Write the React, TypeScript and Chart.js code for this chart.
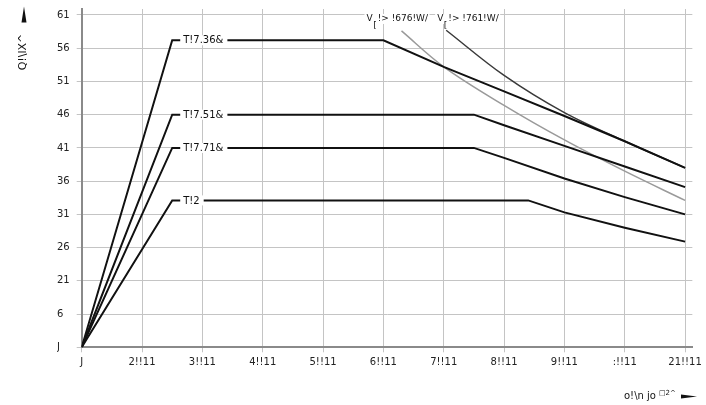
import React, { useEffect, useRef } from 'react';
import { Chart, registerables } from 'chart.js';

Chart.register(...registerables);

const FONT = '"DejaVu Sans", "Liberation Sans", sans-serif';

// axis ticks (values and their labels as printed)
const xTickValues = [0, 100, 200, 300, 400, 500, 600, 700, 800, 900, 1000];
const xTickLabels = ['J', '2!!11', '3!!11', '4!!11', '5!!11', '6!!11', '7!!11', '8!!11', '9!!11', ':!!11', '21!!11'];
const yTickValues = [0, 5, 10, 15, 20, 25, 30, 35, 40, 45, 50];
const yTickLabels = ['J', '6', '21', '26', '31', '36', '41', '46', '51', '56', '61'];

// duty lines
const s625X = [0, 150, 500, 600, 700, 800, 900, 1000];
const s625Y = [0, 46.2, 46.2, 42.2, 38.5, 34.8, 31.0, 27.0];
const s640X = [0, 150, 650, 700, 800, 900, 1000];
const s640Y = [0, 35.0, 35.0, 33.4, 30.3, 27.2, 24.1];
const s660X = [0, 150, 650, 700, 800, 900, 1000];
const s660Y = [0, 30.0, 30.0, 28.5, 25.4, 22.6, 20.0];
const s1X = [0, 150, 740, 800, 900, 1000];
const s1Y = [0, 22.1, 22.1, 20.3, 18.0, 15.9];

const dutyLabels = ['T!7.36&', 'T!7.51&', 'T!7.71&', 'T!2'];
const dutyCornerX = [150, 150, 150, 150];
const dutyLevel = [46.2, 35.0, 30.0, 22.1];

// voltage curves
const u565X = [530, 600, 700, 800, 900, 1000];
const u565Y = [47.6, 42.2, 36.4, 31.2, 26.5, 22.1];
const u650X = [604, 700, 800, 900, 1000];
const u650Y = [47.7, 40.9, 35.3, 31.0, 27.0];
const curveLabelMain = ['V', 'V'];
const curveLabelSub = ['[', '['];
const curveLabelRest = ['!> !676!W/', '!> !761!W/'];
const curveLabelShift = [-35, -9];

const yTitle = 'Q!\\lX^';
const xTitle = 'o!\\n jo';
const xTitleSup = '\u25A12^';

export default function App() {
  const ref = useRef<HTMLCanvasElement>(null);

  useEffect(() => {
    document.body.style.margin = '0';
    const canvas = ref.current!;
    const pts = (xs: number[], ys: number[]) => xs.map((x, i) => ({ x, y: ys[i] }));

    const annotate = {
      id: 'annotate',
      afterDatasetsDraw(chart: any) {
        const { ctx, scales } = chart;
        const xs = scales.x;
        const ys = scales.y;
        ctx.save();
        ctx.font = `10px ${FONT}`;
        ctx.textBaseline = 'middle';
        ctx.textAlign = 'left';
        // duty labels
        dutyLabels.forEach((lab, i) => {
          const px = xs.getPixelForValue(dutyCornerX[i]);
          const py = ys.getPixelForValue(dutyLevel[i]);
          const w = ctx.measureText(lab).width;
          ctx.fillStyle = '#fff';
          ctx.fillRect(px + 8, py - 5, w + 7, 10);
          ctx.fillStyle = '#111';
          ctx.fillText(lab, px + 11, py + 0.5);
        });
        // curve labels
        ctx.font = `9px ${FONT}`;
        const starts = [u565X[0], u650X[0]];
        starts.forEach((sx, i) => {
          const x0 = xs.getPixelForValue(sx) + curveLabelShift[i];
          const yc = ys.getPixelForValue(50) + 4;
          const wV = ctx.measureText(curveLabelMain[i]).width;
          const wS = ctx.measureText(curveLabelSub[i]).width;
          const wR = ctx.measureText(curveLabelRest[i]).width;
          ctx.fillStyle = '#fff';
          ctx.fillRect(x0 - 2, yc - 5, wV + wS + wR + 5, 10);
          ctx.fillStyle = '#111';
          ctx.fillText(curveLabelMain[i], x0, yc);
          ctx.fillText(curveLabelSub[i], x0 + wV + 0.5, yc + 7);
          ctx.fillText(curveLabelRest[i], x0 + wV + wS + 1.5, yc);
        });
        ctx.restore();
      },
      afterDraw(chart: any) {
        const { ctx } = chart;
        ctx.save();
        ctx.fillStyle = '#111';
        // y arrow
        ctx.beginPath();
        ctx.moveTo(21.5, 22.5);
        ctx.lineTo(26.5, 22.5);
        ctx.lineTo(24, 6.5);
        ctx.closePath();
        ctx.fill();
        // y title
        ctx.save();
        ctx.translate(23.5, 52);
        ctx.rotate(-Math.PI / 2);
        ctx.font = `11px ${FONT}`;
        ctx.textAlign = 'center';
        ctx.textBaseline = 'middle';
        ctx.fillText(yTitle, 0, 0);
        ctx.restore();
        // x title
        ctx.font = `10px ${FONT}`;
        ctx.textAlign = 'left';
        ctx.textBaseline = 'middle';
        ctx.fillText(xTitle, 624, 396.5);
        const w = ctx.measureText(xTitle).width;
        ctx.font = `7px ${FONT}`;
        ctx.fillText(xTitleSup, 624 + w + 3, 393);
        // x arrow
        ctx.beginPath();
        ctx.moveTo(681, 394.5);
        ctx.lineTo(681, 398.5);
        ctx.lineTo(697, 396.5);
        ctx.closePath();
        ctx.fill();
        ctx.restore();
      },
    };

    const blackLine = { borderColor: '#111', borderWidth: 2, pointRadius: 0, showLine: true, tension: 0, fill: false };

    const chart = new Chart(canvas, {
      type: 'scatter',
      data: {
        datasets: [
          { ...blackLine, label: dutyLabels[0], data: pts(s625X, s625Y) },
          { ...blackLine, label: dutyLabels[1], data: pts(s640X, s640Y) },
          { ...blackLine, label: dutyLabels[2], data: pts(s660X, s660Y) },
          { ...blackLine, label: dutyLabels[3], data: pts(s1X, s1Y) },
          { label: 'U565', data: pts(u565X, u565Y), borderColor: '#9a9a9a', borderWidth: 1.5, pointRadius: 0, showLine: true, tension: 0.35, fill: false },
          { label: 'U650', data: pts(u650X, u650Y), borderColor: '#3a3a3a', borderWidth: 1.5, pointRadius: 0, showLine: true, tension: 0.35, fill: false },
        ] as any,
      },
      options: {
        animation: false,
        responsive: false,
        maintainAspectRatio: false,
        layout: { padding: { left: 57, top: 7.3, right: 13.6, bottom: 0 } },
        plugins: { legend: { display: false }, tooltip: { enabled: false }, title: { display: false } },
        scales: {
          x: {
            type: 'linear',
            min: 0,
            max: 1012,
            afterBuildTicks: (s: any) => { s.ticks = xTickValues.map((v) => ({ value: v })); },
            afterFit: (s: any) => { s.height = 57.7; },
            ticks: {
              autoSkip: false,
              maxRotation: 0,
              padding: 4,
              color: '#222',
              font: { family: FONT, size: 10 },
              callback: (v: any) => xTickLabels[xTickValues.indexOf(Number(v))] ?? '',
            },
            grid: { color: '#c4c4c4', lineWidth: 1, tickLength: 5 },
            border: { color: '#8a8a8a', width: 2 },
          },
          y: {
            type: 'linear',
            min: 0,
            max: 50.9,
            afterBuildTicks: (s: any) => { s.ticks = yTickValues.map((v) => ({ value: v })); },
            afterFit: (s: any) => { s.width = 24.7; },
            ticks: {
              autoSkip: false,
              crossAlign: 'far',
              color: '#222',
              font: { family: FONT, size: 10 },
              callback: (v: any) => yTickLabels[yTickValues.indexOf(Number(v))] ?? '',
            },
            grid: { color: '#c4c4c4', lineWidth: 1, tickLength: 5 },
            border: { color: '#8a8a8a', width: 2 },
          },
        },
      } as any,
      plugins: [annotate],
    });
    return () => chart.destroy();
  }, []);

  return (
    <div style={{ width: 706, height: 405, background: '#fff' }}>
      <canvas ref={ref} width={706} height={405} style={{ display: 'block', width: 706, height: 405 }} />
    </div>
  );
}
